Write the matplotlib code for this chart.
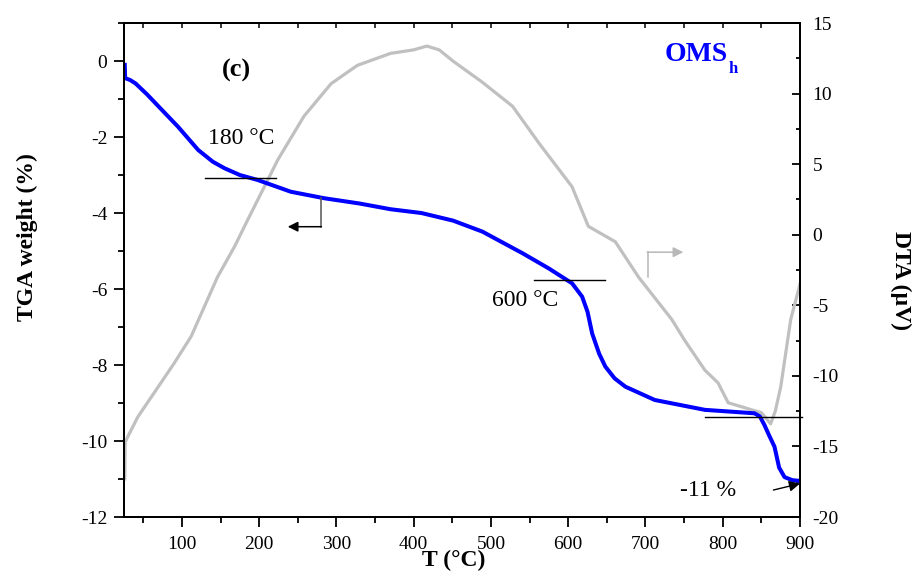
import matplotlib
matplotlib.use("Agg")
import matplotlib.pyplot as plt
from matplotlib.ticker import MultipleLocator

plt.rcParams['font.family'] = 'Liberation Serif'
plt.rcParams['axes.unicode_minus'] = False

# TGA weight loss (%) vs temperature
tga_T = [26, 26.5, 33, 40, 55, 70, 95, 121, 140, 155, 175, 198, 241, 284, 330,
         370, 410, 451, 489, 541, 575, 605, 618, 625, 631, 640, 648, 660, 674,
         712, 777, 841, 848, 854, 860, 867, 873, 880, 890, 900]
tga_w = [-0.1, -0.45, -0.5, -0.59, -0.88, -1.2, -1.73, -2.34, -2.65, -2.82, -3.0,
         -3.13, -3.44, -3.61, -3.75, -3.9, -4.0, -4.2, -4.49, -5.06, -5.46, -5.85,
         -6.2, -6.6, -7.17, -7.7, -8.04, -8.35, -8.57, -8.92, -9.18, -9.27, -9.35,
         -9.58, -9.85, -10.15, -10.7, -10.95, -11.03, -11.05]

# DTA signal (uV) vs temperature
dta_T = [26, 26.5, 30, 43, 69, 90, 112, 129, 146, 168, 185, 211, 224, 258, 293,
         327, 370, 400, 417, 433, 451, 489, 528, 562, 605, 626, 661, 691, 734,
         751, 777, 794, 807, 837, 850, 862, 868, 875, 888, 900]
dta_v = [-17.3, -14.7, -14.3, -12.9, -10.8, -9.1, -7.2, -5.1, -3.0, -0.85, 1.04,
         3.87, 5.3, 8.4, 10.7, 12.0, 12.85, 13.1, 13.37, 13.1, 12.3, 10.8, 9.1, 6.5,
         3.4, 0.6, -0.5, -3.0, -6.0, -7.5, -9.6, -10.5, -11.9, -12.4, -12.6, -13.4,
         -12.5, -10.8, -6.0, -3.5]

fig = plt.figure(figsize=(9.17, 5.76), dpi=100)
ax = fig.add_axes([0.1352, 0.1024, 0.7372, 0.8576])
ax2 = ax.twinx()
ax.set_zorder(ax2.get_zorder() + 1)
ax.patch.set_visible(False)

ax2.plot(dta_T, dta_v, color='#c0c0c0', lw=2.3)
ax.plot(tga_T, tga_w, color='#0000ff', lw=2.9)

ax.set_xlim(25, 900)
ax.set_ylim(-12, 1)
ax2.set_ylim(-20, 15)

ax.xaxis.set_major_locator(MultipleLocator(100))
ax.xaxis.set_minor_locator(MultipleLocator(50))
ax.yaxis.set_major_locator(MultipleLocator(2))
ax.yaxis.set_minor_locator(MultipleLocator(1))
ax2.yaxis.set_major_locator(MultipleLocator(5))
ax2.yaxis.set_minor_locator(MultipleLocator(2.5))

for a in (ax, ax2):
    for s in a.spines.values():
        s.set_linewidth(1.4)

ax.tick_params(which='major', direction='out', length=7, width=1.3, labelsize=14,
               top=False, right=False)
ax.tick_params(which='minor', direction='out', length=4, width=1.3,
               top=False, right=False)
ax.tick_params(axis='x', which='major', pad=7)
ax.tick_params(axis='y', which='major', pad=5)
ax2.tick_params(which='major', direction='in', length=6, width=1.3, labelsize=14, pad=9)
ax2.tick_params(which='minor', direction='in', length=3, width=1.3)

top = ax.secondary_xaxis('top')
top.xaxis.set_major_locator(MultipleLocator(50))
top.tick_params(direction='in', length=3.5, width=1.1, labeltop=False)
top.spines['top'].set_linewidth(1.4)

ax.set_xlabel('T (°C)', fontsize=17, fontweight='bold', va='center')
ax.xaxis.set_label_coords(0.488, -0.087)
ax.set_ylabel('TGA weight (%)', fontsize=17, fontweight='bold', va='center')
ax.yaxis.set_label_coords(-0.1435, 0.567)
ax2.set_ylabel('DTA (µV)', fontsize=17, fontweight='bold', rotation=270,
               va='center', ha='center')
ax2.yaxis.set_label_coords(1.149, 0.478)

# onset markers
ax.plot([129.6, 222], [-3.08, -3.08], color='black', lw=1)
ax.text(133.5, -2.05, '180 °C', fontsize=17, va='center', ha='left')
ax.plot([555.6, 648], [-5.76, -5.76], color='black', lw=1)
ax.text(501.5, -6.29, '600 °C', fontsize=17, va='center', ha='left')
ax.plot([776.6, 903], [-9.38, -9.38], color='black', lw=1, clip_on=False)
ax.text(744.8, -11.29, '-11 %', fontsize=17, va='center', ha='left')
ax.annotate('', xy=(900, -11.12), xytext=(865.6, -11.29),
            arrowprops=dict(arrowstyle='-|>', color='black', lw=1,
                            mutation_scale=16, shrinkA=0, shrinkB=0))

# axis pointers
ax.plot([280, 280], [-3.61, -4.36], color='#555555', lw=1.1)
ax.annotate('', xy=(237, -4.36), xytext=(280.5, -4.36),
            arrowprops=dict(arrowstyle='-|>', color='black', lw=1.1,
                            mutation_scale=15, shrinkA=0, shrinkB=0))
ax.plot([702.7, 702.7], [-5.68, -5.03], color='#b8b8b8', lw=1.1)
ax.annotate('', xy=(749, -5.03), xytext=(702.2, -5.03),
            arrowprops=dict(arrowstyle='-|>', color='#b8b8b8', lw=1.1,
                            mutation_scale=15, shrinkA=0, shrinkB=0))

ax.text(170.8, -0.24, '(c)', fontsize=19, fontweight='bold', ha='center', va='center')
ax.text(725, 0.0, 'OMS', fontsize=20, fontweight='bold', color='#0000ff',
        ha='left', va='baseline')
ax.text(808, -0.32, 'h', fontsize=12, fontweight='bold', color='#0000ff',
        ha='left', va='baseline')

fig.savefig('out.png', dpi=100)
